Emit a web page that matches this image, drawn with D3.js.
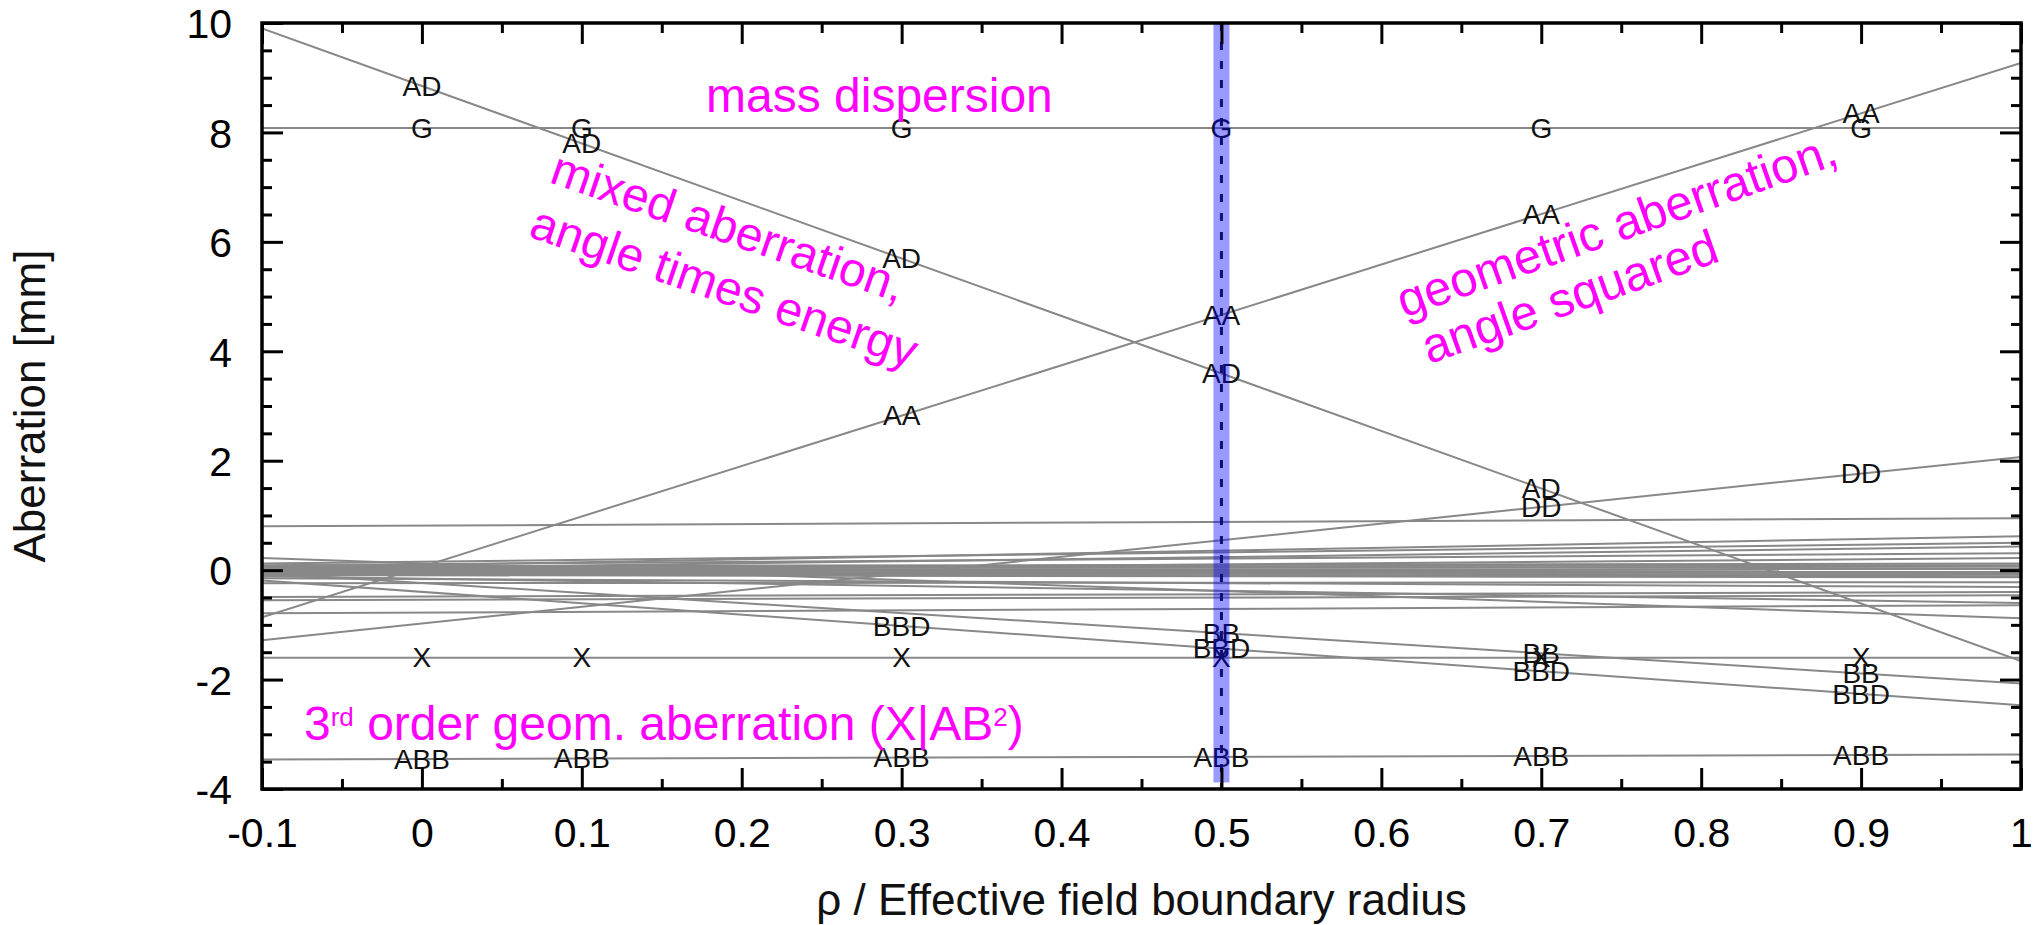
<!DOCTYPE html>
<html>
<head>
<meta charset="utf-8">
<script src="https://cdn.jsdelivr.net/npm/d3@7"></script>
<style>
  html, body { margin: 0; padding: 0; background: #fff; }
  svg { display: block; font-family: "Liberation Sans", Arial, Helvetica, sans-serif; }
</style>
</head>
<body>
<svg id="chart" width="2039" height="925"></svg>
<script>
'use strict';

// every line is straight, given by its value at x = -0.1 and x = 1
var xEnds = [-0.1, 1];

var seriesNames = ["G", "AD", "AA", "X", "ABB", "BBD", "BB", "DD",
  "", "", "", "", "", "", "", "", "", "", "", "", "", "", "", "", "", "", "", "", "", ""];
var leftValues = [8.08, 9.9, -0.86, -1.6, -3.46, -0.19, -0.05, -1.28,
  0.80, 0.22, 0.04, 0.12, 0.01, 0.09, -0.03, 0.07, 0.05, 0.03, 0.01, -0.01,
  -0.03, -0.05, -0.07, -0.09, -0.11, -0.15, -0.24, -0.49, -0.55, -0.79];
var rightValues = [8.08, -1.66, 9.27, -1.6, -3.37, -2.47, -2.07, 2.07,
  0.95, -0.88, 0.62, 0.50, 0.43, 0.31, 0.22, 0.12, 0.09, 0.06, 0.02, -0.02,
  -0.05, -0.08, -0.11, -0.13, -0.60, -0.31, -0.22, -0.40, -0.46, -0.64];

// where the line names are written, only when |value| is above the threshold
var labelPositions = [0, 0.1, 0.3, 0.5, 0.7, 0.9];
var labelThreshold = 1;

var xTicks = [-0.1, 0, 0.1, 0.2, 0.3, 0.4, 0.5, 0.6, 0.7, 0.8, 0.9, 1];
var xTickLabels = ["-0.1", "0", "0.1", "0.2", "0.3", "0.4", "0.5", "0.6", "0.7", "0.8", "0.9", "1"];
var yTicks = [-4, -2, 0, 2, 4, 6, 8, 10];
var yTickLabels = ["-4", "-2", "0", "2", "4", "6", "8", "10"];

var markedRadius = 0.5;
var markedHalfWidth = 0.005;

var plotLeft = 262, plotRight = 2021, plotTop = 23, plotBottom = 789;

var svg = d3.select("#chart");

var x = d3.scaleLinear().domain([-0.1, 1]).range([plotLeft, plotRight]);
var y = d3.scaleLinear().domain([-4, 10]).range([plotBottom, plotTop]);

svg.append("clipPath").attr("id", "plot-clip")
  .append("rect")
  .attr("x", plotLeft).attr("y", plotTop)
  .attr("width", plotRight - plotLeft).attr("height", plotBottom - plotTop);

var series = seriesNames.map(function(name, i) {
  return {
    name: name,
    points: [{ x: xEnds[0], y: leftValues[i] }, { x: xEnds[1], y: rightValues[i] }]
  };
});

function valueAt(s, px) {
  var a = s.points[0], b = s.points[1];
  return a.y + (b.y - a.y) * (px - a.x) / (b.x - a.x);
}

var line = d3.line()
  .x(function(d) { return x(d.x); })
  .y(function(d) { return y(d.y); });

var plot = svg.append("g").attr("clip-path", "url(#plot-clip)");

plot.selectAll("path.dataLine")
  .data(series)
  .enter().append("path")
  .attr("class", "dataLine")
  .attr("d", function(d) { return line(d.points); })
  .attr("fill", "none")
  .attr("stroke", "#888")
  .attr("stroke-width", 2);

// line names
var labels = [];
series.forEach(function(s) {
  if (!s.name) return;
  labelPositions.forEach(function(px) {
    var v = valueAt(s, px);
    if (Math.abs(v) > labelThreshold) labels.push({ name: s.name, x: px, y: v });
  });
});

plot.selectAll("text.lineName")
  .data(labels)
  .enter().append("text")
  .attr("class", "lineName")
  .attr("x", function(d) { return x(d.x); })
  .attr("y", function(d) { return y(d.y); })
  .attr("dy", "0.35em")
  .attr("text-anchor", "middle")
  .attr("font-size", 28)
  .attr("fill", "#111")
  .text(function(d) { return d.name; });

// marked radius
plot.append("rect")
  .attr("x", x(markedRadius - markedHalfWidth))
  .attr("width", x(markedRadius + markedHalfWidth) - x(markedRadius - markedHalfWidth))
  .attr("y", y(10))
  .attr("height", y(-3.88) - y(10))
  .attr("fill", "#0000ff")
  .attr("fill-opacity", 0.4);

plot.append("line")
  .attr("x1", x(markedRadius)).attr("x2", x(markedRadius))
  .attr("y1", y(10)).attr("y2", y(-4))
  .attr("stroke", "#10106e")
  .attr("stroke-width", 3)
  .attr("stroke-dasharray", "8,11");

// axes
var xMinor = d3.range(-0.05, 1, 0.1);
var yMinor = d3.range(-4, 10.01, 0.5).filter(function(v) { return v % 2 !== 0; });

function styleAxis(g) {
  g.select(".domain").remove();
  g.selectAll(".tick line").attr("stroke", "#000").attr("stroke-width", 3);
  g.selectAll(".tick text").attr("fill", "#000").attr("font-size", 41)
    .attr("font-family", "Liberation Sans, Arial, Helvetica, sans-serif");
}

svg.append("g").attr("transform", "translate(0," + plotBottom + ")")
  .call(d3.axisBottom(x).tickValues(xTicks)
    .tickFormat(function(d, i) { return xTickLabels[i]; })
    .tickSizeInner(-21).tickSizeOuter(0).tickPadding(0))
  .call(styleAxis)
  .selectAll(".tick text").attr("y", 58).attr("dy", 0);

svg.append("g").attr("transform", "translate(0," + plotBottom + ")")
  .call(d3.axisBottom(x).tickValues(xMinor).tickFormat("").tickSizeInner(-10).tickSizeOuter(0))
  .call(styleAxis);

svg.append("g").attr("transform", "translate(0," + plotTop + ")")
  .call(d3.axisTop(x).tickValues(xTicks).tickFormat("").tickSizeInner(-21).tickSizeOuter(0))
  .call(styleAxis);

svg.append("g").attr("transform", "translate(0," + plotTop + ")")
  .call(d3.axisTop(x).tickValues(xMinor).tickFormat("").tickSizeInner(-10).tickSizeOuter(0))
  .call(styleAxis);

svg.append("g").attr("transform", "translate(" + plotLeft + ",0)")
  .call(d3.axisLeft(y).tickValues(yTicks)
    .tickFormat(function(d, i) { return yTickLabels[i]; })
    .tickSizeInner(-21).tickSizeOuter(0).tickPadding(30))
  .call(styleAxis)
  .selectAll(".tick text").attr("dy", "0.36em");

svg.append("g").attr("transform", "translate(" + plotLeft + ",0)")
  .call(d3.axisLeft(y).tickValues(yMinor).tickFormat("").tickSizeInner(-10).tickSizeOuter(0))
  .call(styleAxis);

svg.append("g").attr("transform", "translate(" + plotRight + ",0)")
  .call(d3.axisRight(y).tickValues(yTicks).tickFormat("").tickSizeInner(-21).tickSizeOuter(0))
  .call(styleAxis);

svg.append("g").attr("transform", "translate(" + plotRight + ",0)")
  .call(d3.axisRight(y).tickValues(yMinor).tickFormat("").tickSizeInner(-10).tickSizeOuter(0))
  .call(styleAxis);

svg.append("rect")
  .attr("x", plotLeft).attr("y", plotTop)
  .attr("width", plotRight - plotLeft).attr("height", plotBottom - plotTop)
  .attr("fill", "none")
  .attr("stroke", "#000")
  .attr("stroke-width", 3.5);

// axis titles
svg.append("text")
  .attr("x", (plotLeft + plotRight) / 2).attr("y", 915)
  .attr("text-anchor", "middle")
  .attr("font-size", 44)
  .attr("fill", "#111")
  .text("\u03c1 / Effective field boundary radius");

svg.append("text")
  .attr("transform", "translate(45," + ((plotTop + plotBottom) / 2) + ") rotate(-90)")
  .attr("text-anchor", "middle")
  .attr("font-size", 44)
  .attr("fill", "#111")
  .text("Aberration [mm]");

// annotations
var magenta = "#ff00ff";

svg.append("text")
  .attr("x", 706).attr("y", 112)
  .attr("font-size", 48).attr("fill", magenta)
  .text("mass dispersion");

function twoLines(px, py, angle, size, lines, indent, spacing) {
  var t = svg.append("text")
    .attr("transform", "translate(" + px + "," + py + ") rotate(" + angle + ")")
    .attr("font-size", size).attr("fill", magenta);
  lines.forEach(function(s, i) {
    t.append("tspan").attr("x", i * indent).attr("y", i * spacing).text(s);
  });
}

twoLines(548, 182, 19, 48, ["mixed aberration,", "angle times energy"], -2, 58);
twoLines(1404, 318, -19.5, 49, ["geometric aberration,", "angle squared"], 8, 52);

var third = svg.append("text")
  .attr("x", 304).attr("y", 740)
  .attr("font-size", 48).attr("fill", magenta);
third.append("tspan").text("3");
third.append("tspan").attr("font-size", 26).attr("dy", -14).text("rd");
third.append("tspan").attr("dy", 14).text(" order geom. aberration (X|AB");
third.append("tspan").attr("font-size", 26).attr("dy", -14).text("2");
third.append("tspan").attr("dy", 14).text(")");
</script>
</body>
</html>
